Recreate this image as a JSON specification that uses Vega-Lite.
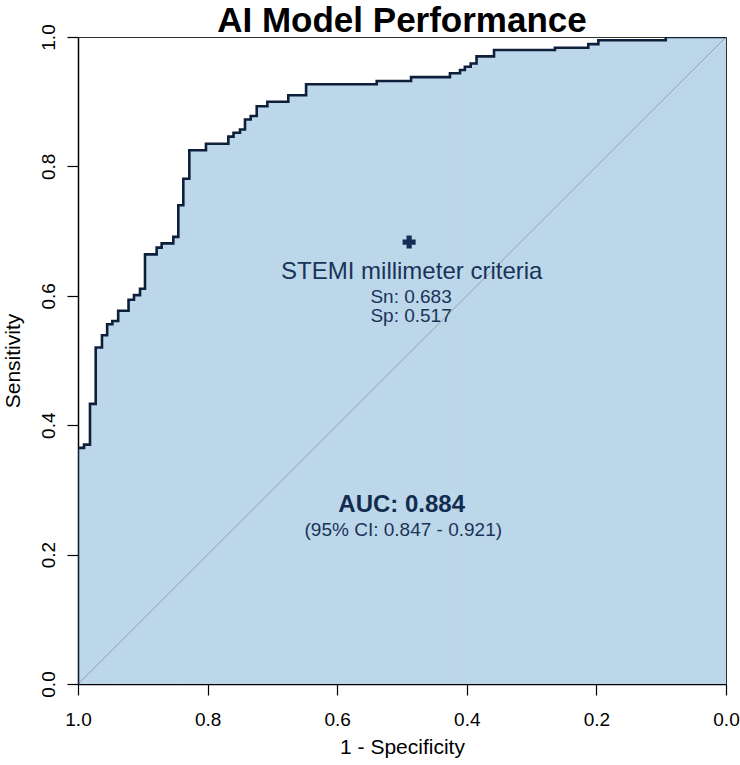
{
  "$schema": "https://vega.github.io/schema/vega-lite/v6.json",
  "width": 648,
  "height": 647,
  "autosize": "none",
  "padding": {"left": 78, "top": 37, "right": 14, "bottom": 81},
  "background": "white",
  "title": {
    "text": "AI Model Performance",
    "font": "Liberation Sans",
    "fontSize": 35,
    "fontWeight": "bold",
    "color": "black",
    "anchor": "middle",
    "frame": "group",
    "offset": 4,
    "dy": 19
  },
  "config": {
    "font": "Liberation Sans",
    "view": {"stroke": "#333333", "strokeWidth": 1}
  },
  "datasets": {
    "steps": [
      {"from": 1.0, "to": 0.9907, "sens": 0.365},
      {"from": 0.9907, "to": 0.9815, "sens": 0.370},
      {"from": 0.9815, "to": 0.9727, "sens": 0.433},
      {"from": 0.9727, "to": 0.963, "sens": 0.520},
      {"from": 0.963, "to": 0.955, "sens": 0.539},
      {"from": 0.955, "to": 0.947, "sens": 0.556},
      {"from": 0.947, "to": 0.938, "sens": 0.561},
      {"from": 0.938, "to": 0.922, "sens": 0.577},
      {"from": 0.922, "to": 0.9136, "sens": 0.594},
      {"from": 0.9136, "to": 0.9043, "sens": 0.601},
      {"from": 0.9043, "to": 0.8966, "sens": 0.611},
      {"from": 0.8966, "to": 0.8786, "sens": 0.664},
      {"from": 0.8786, "to": 0.8709, "sens": 0.6745},
      {"from": 0.8709, "to": 0.8529, "sens": 0.681},
      {"from": 0.8529, "to": 0.8452, "sens": 0.691},
      {"from": 0.8452, "to": 0.8375, "sens": 0.740},
      {"from": 0.8375, "to": 0.8282, "sens": 0.781},
      {"from": 0.8282, "to": 0.8025, "sens": 0.825},
      {"from": 0.8025, "to": 0.768, "sens": 0.835},
      {"from": 0.768, "to": 0.760, "sens": 0.846},
      {"from": 0.760, "to": 0.750, "sens": 0.852},
      {"from": 0.750, "to": 0.7423, "sens": 0.857},
      {"from": 0.7423, "to": 0.7335, "sens": 0.8725},
      {"from": 0.7335, "to": 0.7242, "sens": 0.878},
      {"from": 0.7242, "to": 0.7078, "sens": 0.893},
      {"from": 0.7078, "to": 0.6755, "sens": 0.900},
      {"from": 0.6755, "to": 0.648, "sens": 0.910},
      {"from": 0.648, "to": 0.539, "sens": 0.927},
      {"from": 0.539, "to": 0.486, "sens": 0.932},
      {"from": 0.486, "to": 0.426, "sens": 0.938},
      {"from": 0.426, "to": 0.4105, "sens": 0.944},
      {"from": 0.4105, "to": 0.403, "sens": 0.949},
      {"from": 0.403, "to": 0.394, "sens": 0.954},
      {"from": 0.394, "to": 0.385, "sens": 0.959},
      {"from": 0.385, "to": 0.358, "sens": 0.970},
      {"from": 0.358, "to": 0.264, "sens": 0.980},
      {"from": 0.264, "to": 0.2125, "sens": 0.9835},
      {"from": 0.2125, "to": 0.197, "sens": 0.989},
      {"from": 0.197, "to": 0.093, "sens": 0.995},
      {"from": 0.093, "to": 0.0, "sens": 1.0}
    ],
    "roc": [
      {"i": 1, "spec": 1.0, "sens": 0.0},
      {"i": 2, "spec": 1.0, "sens": 0.365},
      {"i": 3, "spec": 0.9907, "sens": 0.365},
      {"i": 4, "spec": 0.9907, "sens": 0.370},
      {"i": 5, "spec": 0.9815, "sens": 0.370},
      {"i": 6, "spec": 0.9815, "sens": 0.433},
      {"i": 7, "spec": 0.9727, "sens": 0.433},
      {"i": 8, "spec": 0.9727, "sens": 0.520},
      {"i": 9, "spec": 0.963, "sens": 0.520},
      {"i": 10, "spec": 0.963, "sens": 0.539},
      {"i": 11, "spec": 0.955, "sens": 0.539},
      {"i": 12, "spec": 0.955, "sens": 0.556},
      {"i": 13, "spec": 0.947, "sens": 0.556},
      {"i": 14, "spec": 0.947, "sens": 0.561},
      {"i": 15, "spec": 0.938, "sens": 0.561},
      {"i": 16, "spec": 0.938, "sens": 0.577},
      {"i": 17, "spec": 0.922, "sens": 0.577},
      {"i": 18, "spec": 0.922, "sens": 0.594},
      {"i": 19, "spec": 0.9136, "sens": 0.594},
      {"i": 20, "spec": 0.9136, "sens": 0.601},
      {"i": 21, "spec": 0.9043, "sens": 0.601},
      {"i": 22, "spec": 0.9043, "sens": 0.611},
      {"i": 23, "spec": 0.8966, "sens": 0.611},
      {"i": 24, "spec": 0.8966, "sens": 0.664},
      {"i": 25, "spec": 0.8786, "sens": 0.664},
      {"i": 26, "spec": 0.8786, "sens": 0.6745},
      {"i": 27, "spec": 0.8709, "sens": 0.6745},
      {"i": 28, "spec": 0.8709, "sens": 0.681},
      {"i": 29, "spec": 0.8529, "sens": 0.681},
      {"i": 30, "spec": 0.8529, "sens": 0.691},
      {"i": 31, "spec": 0.8452, "sens": 0.691},
      {"i": 32, "spec": 0.8452, "sens": 0.740},
      {"i": 33, "spec": 0.8375, "sens": 0.740},
      {"i": 34, "spec": 0.8375, "sens": 0.781},
      {"i": 35, "spec": 0.8282, "sens": 0.781},
      {"i": 36, "spec": 0.8282, "sens": 0.825},
      {"i": 37, "spec": 0.8025, "sens": 0.825},
      {"i": 38, "spec": 0.8025, "sens": 0.835},
      {"i": 39, "spec": 0.768, "sens": 0.835},
      {"i": 40, "spec": 0.768, "sens": 0.846},
      {"i": 41, "spec": 0.760, "sens": 0.846},
      {"i": 42, "spec": 0.760, "sens": 0.852},
      {"i": 43, "spec": 0.750, "sens": 0.852},
      {"i": 44, "spec": 0.750, "sens": 0.857},
      {"i": 45, "spec": 0.7423, "sens": 0.857},
      {"i": 46, "spec": 0.7423, "sens": 0.8725},
      {"i": 47, "spec": 0.7335, "sens": 0.8725},
      {"i": 48, "spec": 0.7335, "sens": 0.878},
      {"i": 49, "spec": 0.7242, "sens": 0.878},
      {"i": 50, "spec": 0.7242, "sens": 0.893},
      {"i": 51, "spec": 0.7078, "sens": 0.893},
      {"i": 52, "spec": 0.7078, "sens": 0.900},
      {"i": 53, "spec": 0.6755, "sens": 0.900},
      {"i": 54, "spec": 0.6755, "sens": 0.910},
      {"i": 55, "spec": 0.648, "sens": 0.910},
      {"i": 56, "spec": 0.648, "sens": 0.927},
      {"i": 57, "spec": 0.539, "sens": 0.927},
      {"i": 58, "spec": 0.539, "sens": 0.932},
      {"i": 59, "spec": 0.486, "sens": 0.932},
      {"i": 60, "spec": 0.486, "sens": 0.938},
      {"i": 61, "spec": 0.426, "sens": 0.938},
      {"i": 62, "spec": 0.426, "sens": 0.944},
      {"i": 63, "spec": 0.4105, "sens": 0.944},
      {"i": 64, "spec": 0.4105, "sens": 0.949},
      {"i": 65, "spec": 0.403, "sens": 0.949},
      {"i": 66, "spec": 0.403, "sens": 0.954},
      {"i": 67, "spec": 0.394, "sens": 0.954},
      {"i": 68, "spec": 0.394, "sens": 0.959},
      {"i": 69, "spec": 0.385, "sens": 0.959},
      {"i": 70, "spec": 0.385, "sens": 0.970},
      {"i": 71, "spec": 0.358, "sens": 0.970},
      {"i": 72, "spec": 0.358, "sens": 0.980},
      {"i": 73, "spec": 0.264, "sens": 0.980},
      {"i": 74, "spec": 0.264, "sens": 0.9835},
      {"i": 75, "spec": 0.2125, "sens": 0.9835},
      {"i": 76, "spec": 0.2125, "sens": 0.989},
      {"i": 77, "spec": 0.197, "sens": 0.989},
      {"i": 78, "spec": 0.197, "sens": 0.995},
      {"i": 79, "spec": 0.093, "sens": 0.995},
      {"i": 80, "spec": 0.093, "sens": 1.0},
      {"i": 81, "spec": 0.0, "sens": 1.0}
    ]
  },
  "layer": [
    {
      "data": {"name": "steps"},
      "mark": {"type": "rect", "color": "#BDD7EA", "stroke": "#BDD7EA", "strokeWidth": 1, "opacity": 1, "clip": true},
      "encoding": {
        "x": {
          "field": "from", "type": "quantitative",
          "scale": {"domain": [0, 1], "reverse": true, "nice": false, "zero": false},
          "axis": {
            "values": [0, 0.2, 0.4, 0.6, 0.8, 1.0],
            "format": ".1f",
            "grid": false,
            "title": "1 - Specificity",
            "titleFont": "Liberation Sans",
            "titleFontSize": 21,
            "titleFontWeight": "normal",
            "titleColor": "black",
            "titlePadding": 7,
            "labelFont": "Liberation Sans",
            "labelFontSize": 19,
            "labelColor": "black",
            "labelPadding": 15,
            "labelFlush": false,
            "tickSize": 11,
            "tickColor": "black",
            "tickWidth": 1.2,
            "domainColor": "black",
            "domainWidth": 1.5
          }
        },
        "x2": {"field": "to"},
        "y": {
          "field": "sens", "type": "quantitative",
          "scale": {"domain": [0, 1], "nice": false},
          "axis": {
            "values": [0, 0.2, 0.4, 0.6, 0.8, 1.0],
            "format": ".1f",
            "grid": false,
            "title": "Sensitivity",
            "titleFont": "Liberation Sans",
            "titleFontSize": 21,
            "titleFontWeight": "normal",
            "titleColor": "black",
            "titlePadding": 16,
            "labelFont": "Liberation Sans",
            "labelFontSize": 19,
            "labelColor": "black",
            "labelAngle": -90,
            "labelAlign": "center",
            "labelBaseline": "bottom",
            "labelPadding": 9,
            "labelFlush": false,
            "tickSize": 11,
            "tickColor": "black",
            "tickWidth": 1.2,
            "domainColor": "black",
            "domainWidth": 1.5
          }
        },
        "y2": {"datum": 0}
      }
    },
    {
      "data": {"values": [{"spec": 1.0, "sens": 0.0}, {"spec": 0.0, "sens": 1.0}]},
      "mark": {"type": "line", "color": "#9A9FA6", "strokeWidth": 1},
      "encoding": {
        "x": {"field": "spec", "type": "quantitative"},
        "y": {"field": "sens", "type": "quantitative"}
      }
    },
    {
      "data": {"name": "roc"},
      "mark": {"type": "line", "color": "#0E1F3B", "strokeWidth": 2.6, "strokeJoin": "miter", "clip": true},
      "encoding": {
        "x": {"field": "spec", "type": "quantitative"},
        "y": {"field": "sens", "type": "quantitative"},
        "order": {"field": "i", "type": "quantitative"}
      }
    },
    {
      "data": {"values": [{"spec": 0.489, "sens": 0.683}]},
      "mark": {"type": "point", "shape": "cross", "filled": true, "size": 170, "color": "#142F55", "opacity": 1},
      "encoding": {
        "x": {"field": "spec", "type": "quantitative"},
        "y": {"field": "sens", "type": "quantitative"}
      }
    },
    {
      "data": {"values": [{"spec": 0.485, "sens": 0.637, "label": "STEMI millimeter criteria"}]},
      "mark": {"type": "text", "fontSize": 24, "color": "#1A3358", "align": "center", "baseline": "middle", "font": "Liberation Sans"},
      "encoding": {
        "x": {"field": "spec", "type": "quantitative"},
        "y": {"field": "sens", "type": "quantitative"},
        "text": {"field": "label"}
      }
    },
    {
      "data": {"values": [
        {"spec": 0.486, "sens": 0.5986, "label": "Sn: 0.683"},
        {"spec": 0.486, "sens": 0.5688, "label": "Sp: 0.517"},
        {"spec": 0.498, "sens": 0.238, "label": "(95% CI: 0.847 - 0.921)"}
      ]},
      "mark": {"type": "text", "fontSize": 19, "color": "#1A3358", "align": "center", "baseline": "middle", "font": "Liberation Sans"},
      "encoding": {
        "x": {"field": "spec", "type": "quantitative"},
        "y": {"field": "sens", "type": "quantitative"},
        "text": {"field": "label"}
      }
    },
    {
      "data": {"values": [{"spec": 0.5005, "sens": 0.2767, "label": "AUC: 0.884"}]},
      "mark": {"type": "text", "fontSize": 24, "fontWeight": "bold", "color": "#122C50", "align": "center", "baseline": "middle", "font": "Liberation Sans"},
      "encoding": {
        "x": {"field": "spec", "type": "quantitative"},
        "y": {"field": "sens", "type": "quantitative"},
        "text": {"field": "label"}
      }
    }
  ]
}
